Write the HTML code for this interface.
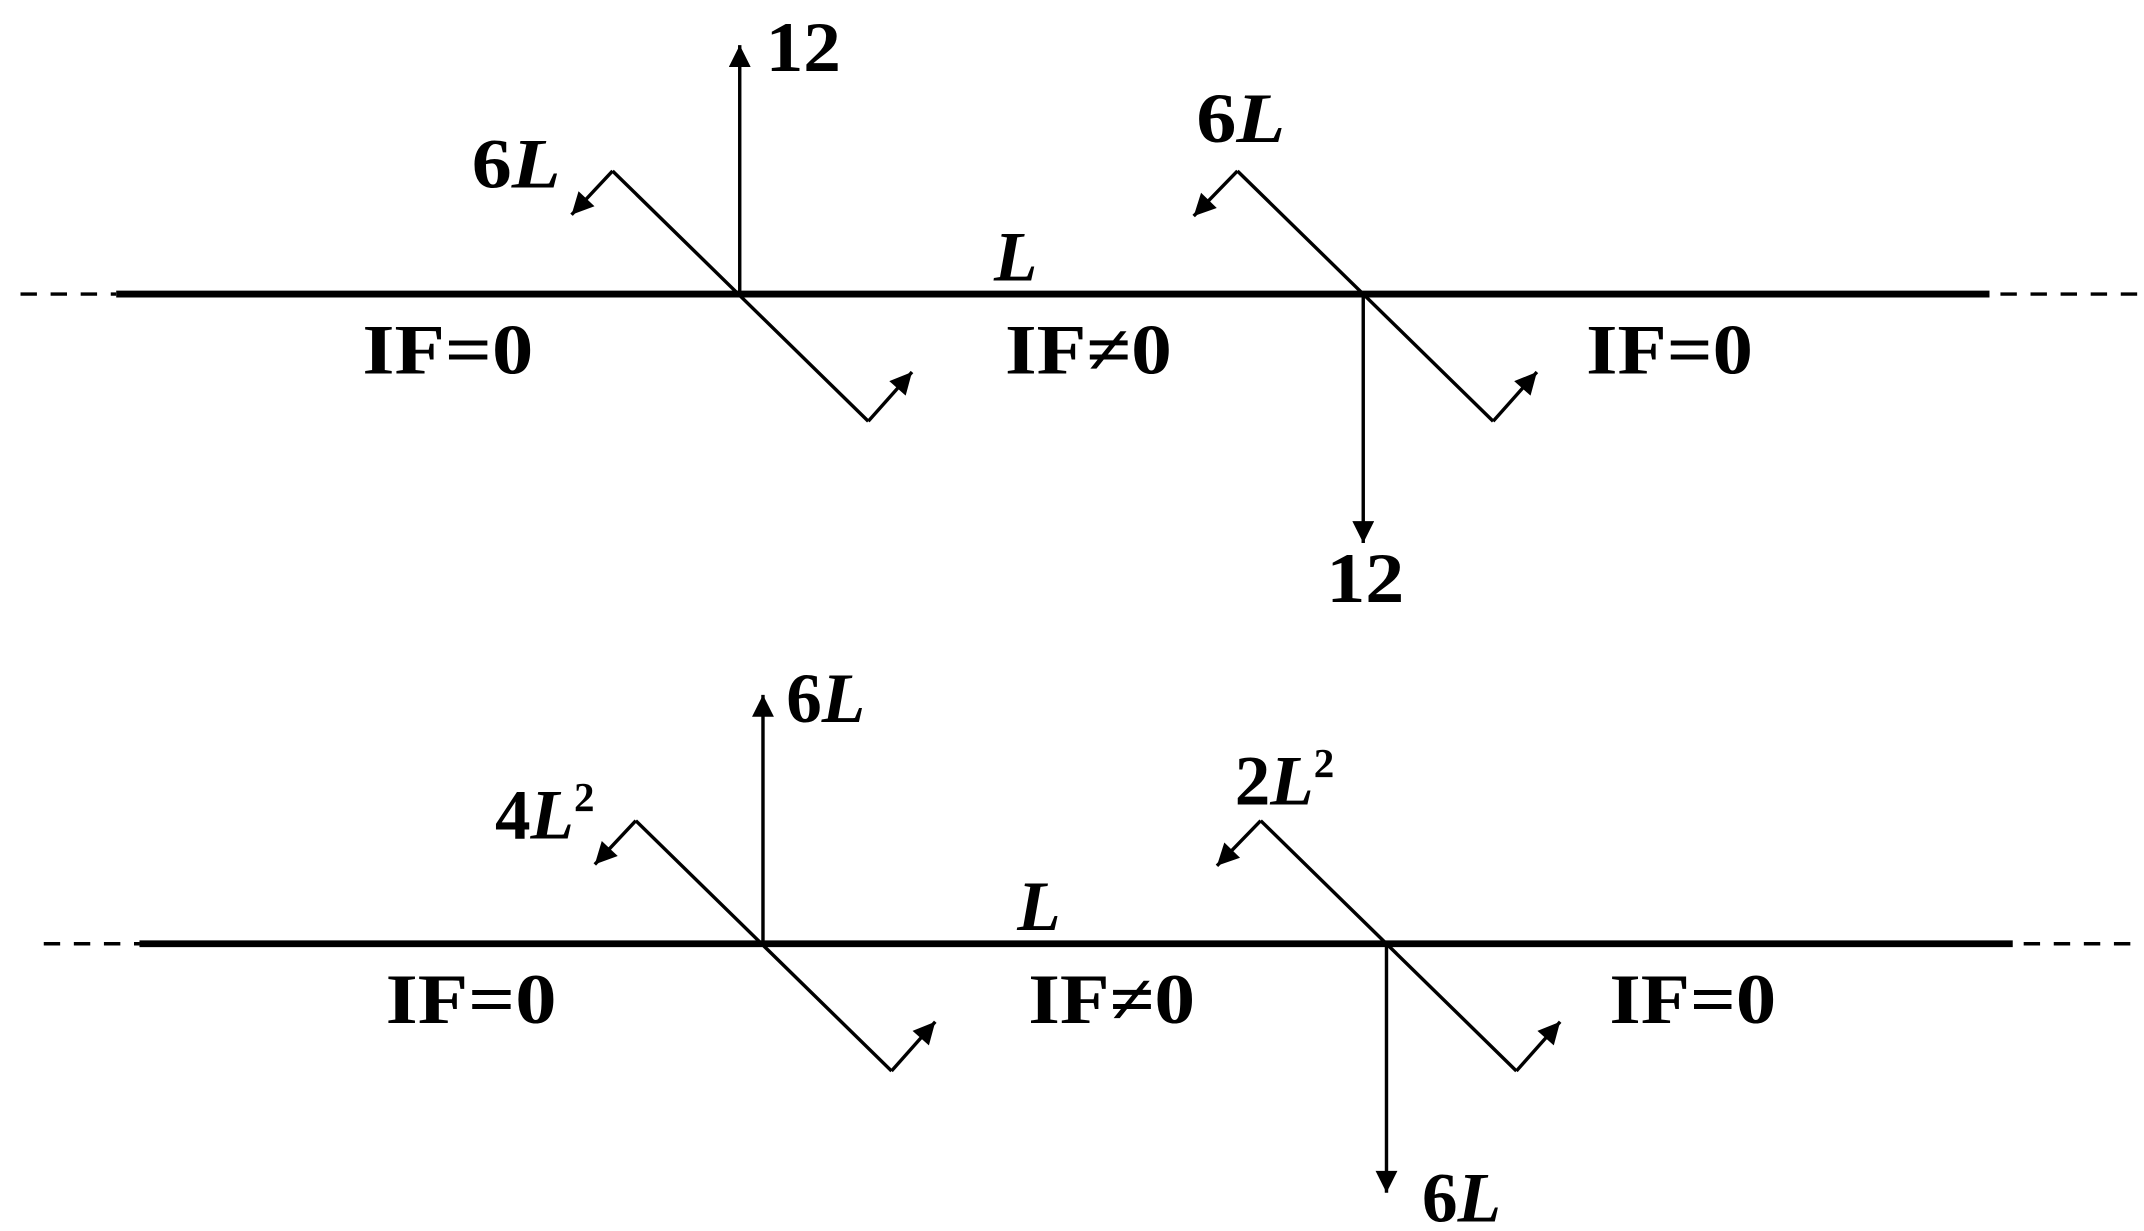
<!DOCTYPE html>
<html><head><style>html,body{margin:0;padding:0;background:#fff}svg{display:block}</style></head>
<body>
<svg width="2144" height="1231" viewBox="0 0 1568 900" preserveAspectRatio="none" xmlns="http://www.w3.org/2000/svg">
<defs>
<marker id="a" viewBox="0 0 10 10" refX="10" refY="5" markerWidth="20" markerHeight="16" markerUnits="userSpaceOnUse" orient="auto"><path d="M0,0 L10,5 L0,10 z" fill="#000"/></marker>
<g id="d">
<line x1="85" y1="215" x2="1455" y2="215" stroke="#000" stroke-width="5"/>
<line x1="15" y1="215" x2="85" y2="215" stroke="#000" stroke-width="2.5" stroke-dasharray="12,10"/>
<line x1="1463" y1="215" x2="1565" y2="215" stroke="#000" stroke-width="2.5" stroke-dasharray="12,10"/>
<g stroke="#000" stroke-width="2.5" fill="none">
<polyline points="635,308 448,125"/>
<line x1="448" y1="125" x2="418" y2="157" marker-end="url(#a)"/>
<line x1="635" y1="308" x2="667" y2="272" marker-end="url(#a)"/>
<polyline points="1092,308 905,125"/>
<line x1="905" y1="125" x2="873" y2="158" marker-end="url(#a)"/>
<line x1="1092" y1="308" x2="1124" y2="272" marker-end="url(#a)"/>
</g>
</g>
</defs>
<g font-family="Liberation Serif, serif" font-weight="bold" font-size="52" fill="#000">
<use href="#d"/>
<line x1="541" y1="215" x2="541" y2="33" stroke="#000" stroke-width="2.5" marker-end="url(#a)"/>
<line x1="997" y1="215" x2="997" y2="397" stroke="#000" stroke-width="2.5" marker-end="url(#a)"/>
<text x="560" y="52" textLength="55" lengthAdjust="spacingAndGlyphs">12</text>
<text x="345" y="137" textLength="65" lengthAdjust="spacingAndGlyphs">6<tspan font-style="italic">L</tspan></text>
<text x="875" y="104" textLength="65" lengthAdjust="spacingAndGlyphs">6<tspan font-style="italic">L</tspan></text>
<text x="727" y="205" font-style="italic">L</text>
<text x="265" y="273" textLength="125" lengthAdjust="spacingAndGlyphs">IF=0</text>
<text x="735" y="273" textLength="122" lengthAdjust="spacingAndGlyphs">IF≠0</text>
<text x="1160" y="273" textLength="122" lengthAdjust="spacingAndGlyphs">IF=0</text>
<text x="970" y="440" textLength="57" lengthAdjust="spacingAndGlyphs">12</text>

<use href="#d" transform="translate(17,475)"/>
<line x1="558" y1="690" x2="558" y2="508" stroke="#000" stroke-width="2.5" marker-end="url(#a)"/>
<line x1="1014" y1="690" x2="1014" y2="872" stroke="#000" stroke-width="2.5" marker-end="url(#a)"/>
<text x="575" y="528">6<tspan font-style="italic">L</tspan></text>
<text x="362" y="613">4<tspan font-style="italic">L</tspan><tspan font-size="30" dy="-20">2</tspan></text>
<text x="903" y="588">2<tspan font-style="italic">L</tspan><tspan font-size="30" dy="-20">2</tspan></text>
<text x="744" y="680" font-style="italic">L</text>
<text x="282" y="748" textLength="125" lengthAdjust="spacingAndGlyphs">IF=0</text>
<text x="752" y="748" textLength="122" lengthAdjust="spacingAndGlyphs">IF≠0</text>
<text x="1177" y="748" textLength="122" lengthAdjust="spacingAndGlyphs">IF=0</text>
<text x="1040" y="893">6<tspan font-style="italic">L</tspan></text>
</g>
</svg>
</body></html>
